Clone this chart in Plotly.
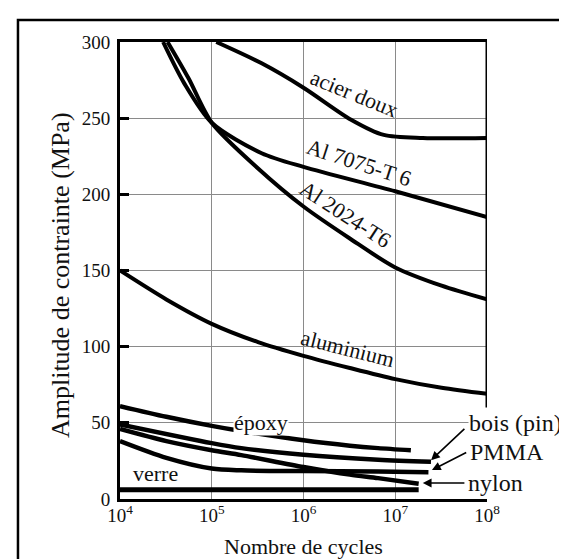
import plotly.graph_objects as go

# ---- data (cycles, stress amplitude in MPa) ----
acier_x = [1.12e5, 3.5e5, 1e6, 3.3e6, 7.5e6, 2e7, 1e8]
acier_y = [300, 286, 270, 249, 239, 237, 237]

al7075_x = [2.95e4, 5e4, 1e5, 3.5e5, 1e6, 1e7, 1e8]
al7075_y = [300, 273, 247, 227, 218, 202, 185]

al2024_x = [3.3e4, 5.6e4, 1e5, 3.2e5, 1e6, 3.2e6, 1e7, 3.2e7, 1e8]
al2024_y = [300, 276, 247, 217, 192, 171, 152, 140, 131]

alu_x = [1e4, 3.2e4, 1e5, 3.2e5, 1e6, 3.2e6, 1e7, 3.2e7, 1e8]
alu_y = [150, 131, 115, 103, 94, 86, 78.7, 73, 69]

epoxy_x = [1e4, 3.2e4, 1e5, 2.1e5, 1e6, 3.2e6, 6.5e6, 1.48e7]
epoxy_y = [61, 54, 48, 44.6, 38.5, 35, 33.4, 32]

bois_x = [1e4, 1e5, 2.1e5, 1e6, 6.5e6, 2.45e7]
bois_y = [49, 36.7, 33.4, 29, 25.8, 24.5]

nylon_x = [1e4, 3.2e4, 1e5, 2.1e5, 1e6, 3.2e6, 6.5e6, 1.8e7]
nylon_y = [46, 38, 32, 28.8, 21, 16, 13.7, 10]

pmma_x = [1e4, 3.2e4, 1e5, 2.1e5, 1e6, 6.5e6, 2.3e7]
pmma_y = [38, 27, 20, 18.8, 18.3, 18, 17.5]

verre_x = [1e4, 1.8e7]
verre_y = [6, 6]

tick_x = [1e4, 1e5, 1e6, 1e7, 1e8]
tick_x_text = ["10<sup>4</sup>", "10<sup>5</sup>", "10<sup>6</sup>", "10<sup>7</sup>", "10<sup>8</sup>"]
tick_y = [0, 50, 100, 150, 200, 250, 300]

FONT = "Liberation Serif"

fig = go.Figure()
series = [
    (acier_x, acier_y, 4), (al7075_x, al7075_y, 4), (al2024_x, al2024_y, 4),
    (alu_x, alu_y, 4), (epoxy_x, epoxy_y, 4.5), (bois_x, bois_y, 4.5),
    (nylon_x, nylon_y, 4.5), (pmma_x, pmma_y, 4.5), (verre_x, verre_y, 5),
]
for xs, ys, w in series:
    fig.add_trace(go.Scatter(x=xs, y=ys, mode="lines",
                             line=dict(color="black", width=w, shape="spline", smoothing=0.8),
                             showlegend=False, hoverinfo="skip"))

fig.update_layout(
    width=567, height=559,
    margin=dict(l=112, r=88, t=34, b=68),
    paper_bgcolor="white", plot_bgcolor="white",
    font=dict(family=FONT, color="#111", size=19),
)
fig.update_xaxes(type="log", range=[4, 8], tickvals=tick_x, ticktext=tick_x_text,
                 showgrid=True, gridcolor="#8a8a8a", gridwidth=1.2,
                 showline=True, linecolor="black", linewidth=3, mirror=True,
                 ticks="", ticklabelstandoff=-3, tickfont=dict(size=19), zeroline=False)
fig.update_yaxes(range=[0, 300], tickvals=tick_y,
                 showgrid=True, gridcolor="#8a8a8a", gridwidth=1.2,
                 showline=True, linecolor="black", linewidth=3, mirror=False,
                 ticks="inside", ticklen=9, tickwidth=2.5, tickcolor="black",
                 ticklabelstandoff=3, tickfont=dict(size=19), zeroline=False)

# right spine (stops above the labels)
fig.add_shape(type="line", xref="x", yref="y", x0=1e8, x1=1e8, y0=60, y1=300,
              line=dict(color="black", width=3))
# outer frame (extends past the image)
fig.add_shape(type="rect", xref="paper", yref="paper", x0=-0.278, x1=1.4, y0=-0.3, y1=1.048,
              line=dict(color="black", width=2.5), layer="below")

def lab(text, lx, y, angle=0, size=22, bg=False, xanchor="center"):
    fig.add_annotation(text=text, x=lx, y=y, xref="x", yref="y", showarrow=False,
                       textangle=angle, font=dict(size=size, family=FONT, color="#111"),
                       bgcolor="white" if bg else None, borderpad=0, xanchor=xanchor)

lab("acier doux", 6.55, 266, 22)
lab("Al 7075-T 6", 6.6, 221, 18)
lab("Al 2024-T6", 6.46, 187, 33)
lab("aluminium", 6.48, 99, 14)
lab("époxy", 5.54, 50, 0, bg=True)
lab("verre", 4.39, 16.5, 0)
lab("bois (pin)", 7.79, 50, 0, size=24, bg=True, xanchor="left")
lab("PMMA", 7.80, 31, 0, size=24, xanchor="left")
lab("nylon", 7.78, 10.5, 0, size=24, xanchor="left")

def arrow(lx_head, y_head, lx_tail, y_tail):
    fig.add_annotation(text="", x=lx_head, y=y_head, ax=lx_tail, ay=y_tail,
                       xref="x", yref="y", axref="x", ayref="y", showarrow=True,
                       arrowhead=2, arrowsize=1.1, arrowwidth=1.6, arrowcolor="black")

arrow(7.39, 25.5, 7.77, 47)
arrow(7.40, 19, 7.79, 31)
arrow(7.30, 10.5, 7.77, 10.5)

# axis titles
fig.add_annotation(text="Amplitude de contrainte (MPa)", xref="paper", yref="paper",
                   x=-0.1635, y=0.49, xanchor="center", yanchor="middle",
                   textangle=-90, showarrow=False,
                   font=dict(size=26, family=FONT, color="#111"))
fig.add_annotation(text="Nombre de cycles", xref="paper", yref="paper",
                   x=0.5, y=-0.103, xanchor="center", yanchor="middle", showarrow=False,
                   font=dict(size=22, family=FONT, color="#111"))

fig.write_html("out.html")
